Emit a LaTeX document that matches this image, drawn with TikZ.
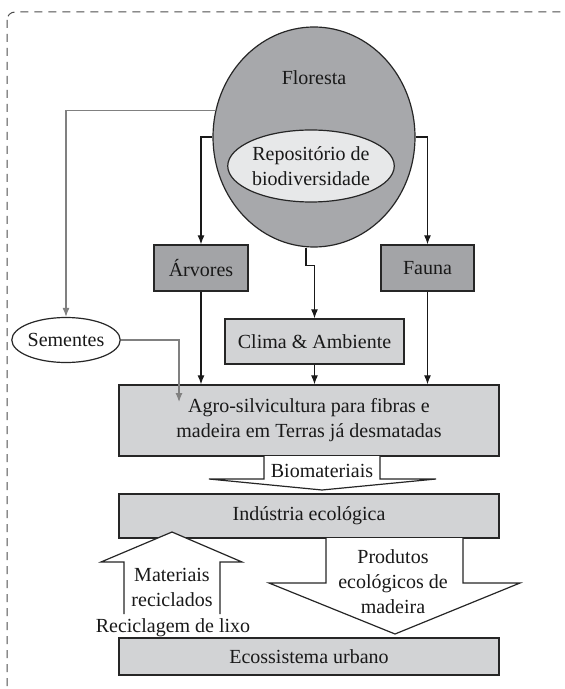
\documentclass[tikz,border=0pt]{standalone}
\usepackage{fontspec}
\setmainfont{Liberation Serif}
\usetikzlibrary{positioning,arrows.meta,shapes.geometric,calc}
\definecolor{forestgray}{HTML}{A7A8AB}
\definecolor{darkbox}{HTML}{A3A4A7}
\definecolor{lightbox}{HTML}{D2D3D5}
\definecolor{innerfill}{HTML}{E7E8E9}
\tikzstyle{darkblk} = [
rectangle,
draw=black!85,
line width=0.65pt,
fill=darkbox
]
\tikzstyle{lightblk} = [
rectangle,
draw=black!85,
line width=0.65pt,
fill=lightbox,
align=center
]
\tikzstyle{oval} = [
ellipse,
draw=black!85,
line width=0.6pt,
inner sep=0pt,
align=center
]
\tikzstyle{arr} = [
-{Latex[length=4.5pt,width=3.5pt]},
line width=0.6pt,
black!90
]
\tikzstyle{grayarr} = [
-{Latex[length=4.5pt,width=3.5pt]},
line width=0.6pt,
black!50
]
\tikzstyle{bigarrow} = [
draw=black!85,
line width=0.6pt,
fill=white,
line join=miter
]

\begin{document}
\begin{tikzpicture}[
	x=0.5pt,
	y=-0.5pt,
	font=\fontsize{10}{12.5}\selectfont,
	text=black!90
	]
	
	\useasboundingbox (0,0) rectangle (564,689);
	\begin{scope}
		\clip (0,0) rectangle (564,689);
		\draw[black!70, line width=0.5pt, dash pattern=on 4pt off 3pt, rounded corners=4pt]
			(7,12) rectangle (572,720);
	\end{scope}
	
	\node[oval, fill=forestgray, minimum width=101pt, minimum height=110pt] (floresta) at (314,137) {};
	\node (florestatxt) at (314,78) {Floresta};
	\node[oval, fill=innerfill, minimum width=72pt, minimum height=36pt] (repos) at (311,166)
		{Reposit\'orio de\\biodiversidade};
	
	\node[oval, fill=white, minimum width=52.5pt, minimum height=22.5pt] (sementes) at (66,340) {Sementes};
	
	\node[darkblk, minimum width=47pt, minimum height=23pt] (arvores) at (201,268) {\'Arvores};
	\node[darkblk, minimum width=46.5pt, minimum height=23pt] (fauna) at (427.5,268) {Fauna};
	\node[lightblk, minimum width=89.5pt, minimum height=22.5pt] (clima) at (314.5,341.5) {Clima \& Ambiente};
	
	\node[lightblk, minimum width=190pt, minimum height=35.5pt] (agro) at (309,420.5)
		{Agro-silvicultura para fibras e\\madeira em Terras j\'a desmatadas};
	\node[lightblk, minimum width=190pt, minimum height=22pt] (industria) at (309,516) {Ind\'ustria ecol\'ogica};
	\node[lightblk, minimum width=190pt, minimum height=18.5pt] (urbano) at (309,656.5) {Ecossistema urbano};
	
	\coordinate (semtip) at (179,402);
	
	% floresta branches
	\draw[grayarr] (floresta.165) -| (sementes.north);
	\draw[arr] (floresta.west) -| (arvores.north);
	\draw[arr] (floresta.east) -| (fauna.north);
	\draw[arr] ([xshift=-4pt]floresta.south) -- ++(0,18) -| (clima.north);
	
	% into agro
	\draw[arr] (arvores.south) -- (arvores.south |- agro.north);
	\draw[arr] (clima.south) -- (clima.south |- agro.north);
	\draw[arr] (fauna.south) -- (fauna.south |- agro.north);
	\draw[grayarr] (sementes.east) -| (semtip);
	
	% block arrows
	\draw[bigarrow] (264,456) -- (264,479) -- (209,479) -- (322,490) -- (436,479) -- (380,479) -- (380,456);
	\node (bio) at (322,471) {Biomateriais};
	
	\draw[bigarrow] (124,614) -- (124,562) -- (101,562) -- (172,532) -- (242,562) -- (220,562) -- (220,614);
	\node[align=center] (materiais) at (172,587) {Materiais\\reciclados};
	\node (lixo) at (173,628) {Reciclagem de lixo};
	
	\draw[bigarrow] (326,538) -- (326,583) -- (269,583) -- (395,634) -- (520,583) -- (463,583) -- (463,538);
	\node[align=center] (produtos) at (393,582) {Produtos\\ecol\'ogicos de\\madeira};
	\end{tikzpicture}
\end{document}
